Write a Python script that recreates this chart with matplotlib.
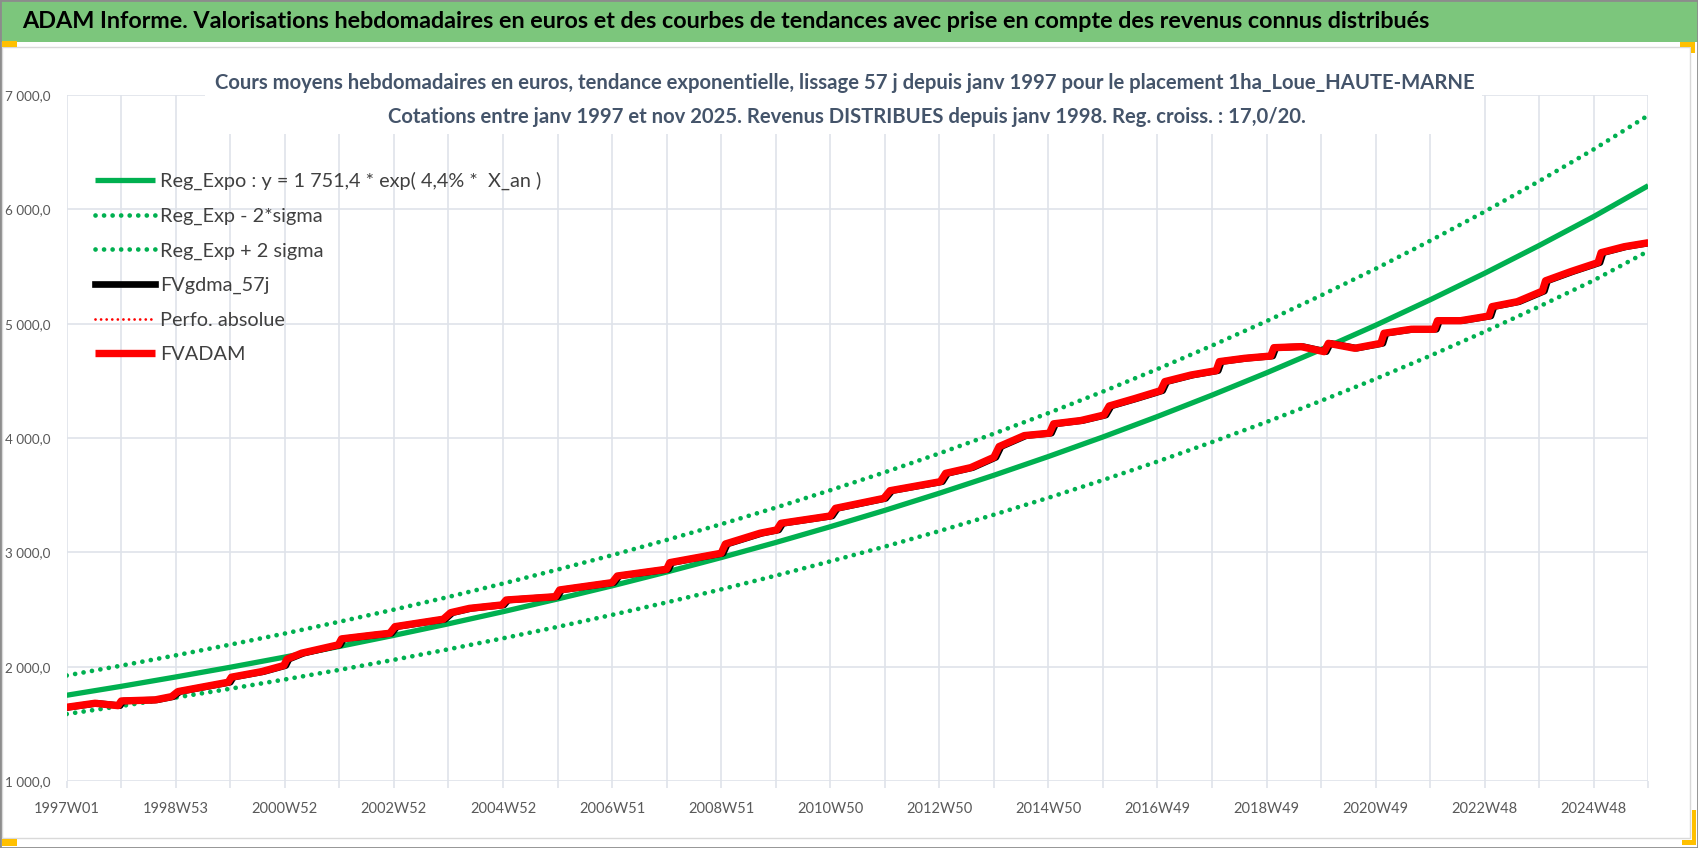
import matplotlib
matplotlib.use('Agg')
import matplotlib.pyplot as plt
from matplotlib.patches import Rectangle
from matplotlib.ticker import FuncFormatter

# ===== Data =====
# x axis = week index since 1997W01 (one category per week)
tick_labels = ['1997W01', '1998W53', '2000W52', '2002W52', '2004W52', '2006W51',
               '2008W51', '2010W50', '2012W50', '2014W50', '2016W49', '2018W49',
               '2020W49', '2022W48', '2024W48']
last_week = 1508

# trend curves, sampled once a year (every 52 weeks)
trend_weeks = list(range(0, last_week + 1, 52))
reg_expo = [1750, 1828, 1910, 1995, 2084, 2177, 2274, 2375, 2481, 2592,
            2707, 2828, 2954, 3086, 3224, 3367, 3517, 3674, 3838, 4009,
            4188, 4375, 4570, 4774, 4986, 5209, 5441, 5684, 5937, 6207]
reg_plus = [1923, 2009, 2099, 2193, 2290, 2393, 2499, 2610, 2727, 2849,
            2975, 3108, 3246, 3391, 3543, 3700, 3865, 4038, 4218, 4406,
            4603, 4808, 5022, 5247, 5480, 5725, 5980, 6247, 6525, 6822]
reg_minus = [1586, 1656, 1730, 1807, 1888, 1972, 2060, 2152, 2248, 2348,
             2453, 2562, 2676, 2796, 2921, 3050, 3186, 3329, 3477, 3632,
             3794, 3964, 4140, 4325, 4517, 4719, 4930, 5150, 5379, 5635]

# FVADAM weekly value, with the yearly jumps (distributed revenues)
fv_weeks = [0, 27, 35, 49, 52, 84, 100, 106, 154, 157, 186, 207, 210, 224, 259, 262,
            294, 308, 313, 359, 366, 384, 415, 419, 466, 470, 520, 525, 572, 575,
            624, 628, 661, 677, 681, 728, 733, 779, 785, 833, 838, 862, 884, 889,
            913, 937, 941, 967, 989, 994, 1018, 1043, 1047, 1072, 1096, 1099, 1123,
            1148, 1151, 1177, 1199, 1203, 1228, 1253, 1256, 1282, 1304, 1307, 1329,
            1356, 1359, 1383, 1407, 1410, 1434, 1460, 1463, 1485, 1508]
fv_values = [1645, 1680, 1672, 1659, 1700, 1709, 1738, 1782, 1864, 1908, 1957, 2010,
             2066, 2118, 2191, 2243, 2278, 2292, 2350, 2415, 2472, 2510, 2540, 2583,
             2612, 2671, 2735, 2793, 2852, 2910, 2992, 3073, 3167, 3196, 3254, 3318,
             3385, 3472, 3539, 3618, 3691, 3741, 3831, 3925, 4021, 4042, 4124, 4153,
             4201, 4280, 4344, 4414, 4493, 4551, 4589, 4668, 4697, 4717, 4790, 4799,
             4755, 4828, 4785, 4828, 4916, 4951, 4951, 5026, 5026, 5067, 5149, 5192,
             5285, 5375, 5455, 5534, 5621, 5673, 5708]
gdma_lag = 2  # 57 day moving average lags the jumps by a couple of weeks

title = ('ADAM Informe. Valorisations hebdomadaires en euros et des courbes de '
         'tendances avec prise en compte des revenus connus distribués')
subtitle1 = ('Cours moyens hebdomadaires en euros, tendance exponentielle, lissage 57 j '
             'depuis janv 1997 pour le placement 1ha_Loue_HAUTE-MARNE')
subtitle2 = ('Cotations entre janv 1997 et nov 2025. Revenus DISTRIBUES depuis janv 1998. '
             'Reg. croiss. : 17,0/20.')

GREEN = '#00B050'
RED = '#FF0000'
GRID = '#dfe3ea'
FONT = ['Lato', 'DejaVu Sans']
plt.rcParams['font.family'] = FONT

# ===== Figure =====
W, H = 1698, 848
fig = plt.figure(figsize=(W / 100, H / 100), dpi=100)


def fx(x):
    return x / W


def fy(y):
    return 1 - y / H


ax = fig.add_axes([fx(66.7), fy(781), fx(1648.3) - fx(66.7), fy(95) - fy(781)])

ax.plot(trend_weeks, reg_expo, color=GREEN, lw=3.8, solid_capstyle='butt',
        label='Reg_Expo : y = 1 751,4 * exp( 4,4% *  X_an )')
ax.plot(trend_weeks, reg_minus, color=GREEN, lw=3.4, linestyle=(0, (0.01, 1.8)),
        dash_capstyle='round', label='Reg_Exp - 2*sigma')
ax.plot(trend_weeks, reg_plus, color=GREEN, lw=3.4, linestyle=(0, (0.01, 1.8)),
        dash_capstyle='round', label='Reg_Exp + 2 sigma')
ax.plot([w + gdma_lag for w in fv_weeks], fv_values, color='black', lw=4.8,
        solid_joinstyle='round', label='FVgdma_57j')
ax.plot(fv_weeks, fv_values, color=RED, lw=2.0, linestyle=(0, (0.01, 2.0)),
        dash_capstyle='round', label='Perfo. absolue')
ax.plot(fv_weeks, fv_values, color=RED, lw=5.3, solid_joinstyle='round',
        solid_capstyle='butt', label='FVADAM')

ax.set_xlim(0, last_week)
ax.set_ylim(1000, 7000)
ax.set_yticks(range(1000, 7001, 1000))
ax.yaxis.set_major_formatter(FuncFormatter(
    lambda v, p: f'{v:,.1f}'.replace(',', ' ').replace('.', ',')))
grid_weeks = list(range(0, last_week + 1, 52))
ax.set_xticks(grid_weeks)
ax.set_xticklabels([tick_labels[i // 2] if i % 2 == 0 and i // 2 < len(tick_labels) else ''
                    for i in range(len(grid_weeks))])
ax.grid(True, color=GRID, lw=1.2)
ax.set_axisbelow(True)
for s in ax.spines.values():
    s.set_visible(False)
ax.tick_params(axis='x', length=5, width=1.2, color=GRID, pad=10,
               labelsize=10.5, labelcolor='#595959')
ax.tick_params(axis='y', length=0, pad=12, labelsize=9.7, labelcolor='#595959')

leg = ax.legend(loc='upper left', bbox_to_anchor=(0.018, 0.888), frameon=False,
                fontsize=14.3, labelspacing=0.88, handlelength=3.0,
                handletextpad=0.25, borderpad=0, borderaxespad=0)
for t in leg.get_texts():
    t.set_color('#404040')

# ===== Decorations in pixel positions =====
def add_rect(x0, y0, x1, y1, **kw):
    r = Rectangle((fx(x0), fy(y1)), fx(x1) - fx(x0), fy(y0) - fy(y1),
                  transform=fig.transFigure, **kw)
    fig.add_artist(r)


add_rect(0, 0, W, 42, facecolor='#7cc67c', edgecolor='none', zorder=1)
add_rect(2, 47, 1690, 838, facecolor='none', edgecolor='#d9d9d9', lw=1, zorder=1)
add_rect(205, 55, 1482, 134, facecolor='white', edgecolor='none', zorder=2)
add_rect(0, 0, W, H, facecolor='none', edgecolor='#8c8c8c', lw=2, zorder=5)
for box in [(2, 41, 17, 47), (1680, 42, 1695, 47), (1691, 42, 1695, 53),
            (2, 839, 17, 846), (1682, 840, 1696, 845), (1692, 810, 1696, 845)]:
    add_rect(*box, facecolor='#FFC000', edgecolor='none', zorder=6)

fig.text(fx(22), fy(22), title, fontsize=16.85, fontweight='bold', color='black',
         ha='left', va='center', zorder=3)
fig.text(fx(845), fy(83), subtitle1, fontsize=14.6, fontweight='bold', color='#44546A',
         ha='center', va='center', zorder=3)
fig.text(fx(847), fy(117), subtitle2, fontsize=14.6, fontweight='bold', color='#44546A',
         ha='center', va='center', zorder=3)

fig.savefig('out.png', dpi=100)
